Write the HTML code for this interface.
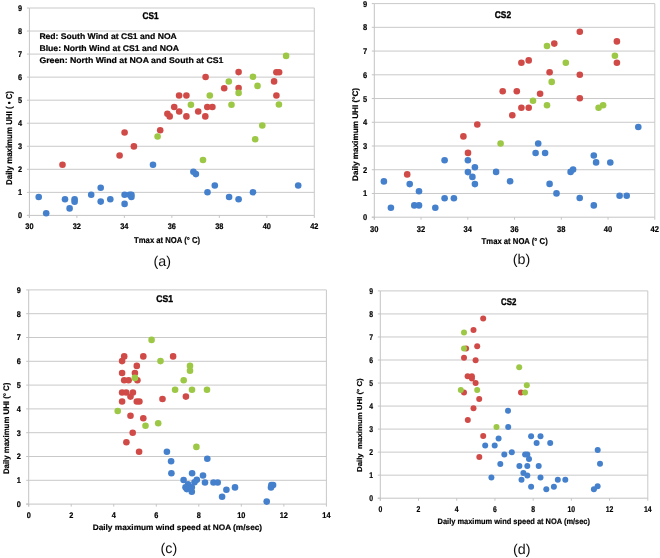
<!DOCTYPE html>
<html><head><meta charset="utf-8"><title>UHI scatter plots</title>
<style>
html,body{margin:0;padding:0;background:#fff;}
body{width:660px;height:558px;overflow:hidden;}
svg{display:block;font-family:"Liberation Sans", sans-serif;text-rendering:geometricPrecision;} text[font-weight=bold]{stroke:#000;stroke-width:0.2px;} text.t{stroke-width:0.4px;} svg{will-change:transform;filter:blur(0.3px);}
</style></head>
<body>
<svg width="660" height="558" viewBox="0 0 660 558" shape-rendering="auto">
<line x1="29.4" y1="192.36" x2="314.3" y2="192.36" stroke="#c9c9c9" stroke-width="1"/>
<line x1="29.4" y1="169.31" x2="314.3" y2="169.31" stroke="#c9c9c9" stroke-width="1"/>
<line x1="29.4" y1="146.27" x2="314.3" y2="146.27" stroke="#c9c9c9" stroke-width="1"/>
<line x1="29.4" y1="123.22" x2="314.3" y2="123.22" stroke="#c9c9c9" stroke-width="1"/>
<line x1="29.4" y1="100.18" x2="314.3" y2="100.18" stroke="#c9c9c9" stroke-width="1"/>
<line x1="29.4" y1="77.13" x2="314.3" y2="77.13" stroke="#c9c9c9" stroke-width="1"/>
<line x1="29.4" y1="54.09" x2="314.3" y2="54.09" stroke="#c9c9c9" stroke-width="1"/>
<line x1="29.4" y1="31.04" x2="314.3" y2="31.04" stroke="#c9c9c9" stroke-width="1"/>
<line x1="29.4" y1="8" x2="314.3" y2="8" stroke="#c9c9c9" stroke-width="1"/>
<line x1="314.3" y1="8" x2="314.3" y2="215.4" stroke="#c9c9c9" stroke-width="1"/>
<line x1="29.4" y1="8" x2="29.4" y2="217.9" stroke="#c4c4c4" stroke-width="1"/>
<line x1="26.9" y1="215.4" x2="314.3" y2="215.4" stroke="#c4c4c4" stroke-width="1"/>
<line x1="26.9" y1="215.4" x2="29.4" y2="215.4" stroke="#c4c4c4" stroke-width="1"/>
<line x1="26.9" y1="192.36" x2="29.4" y2="192.36" stroke="#c4c4c4" stroke-width="1"/>
<line x1="26.9" y1="169.31" x2="29.4" y2="169.31" stroke="#c4c4c4" stroke-width="1"/>
<line x1="26.9" y1="146.27" x2="29.4" y2="146.27" stroke="#c4c4c4" stroke-width="1"/>
<line x1="26.9" y1="123.22" x2="29.4" y2="123.22" stroke="#c4c4c4" stroke-width="1"/>
<line x1="26.9" y1="100.18" x2="29.4" y2="100.18" stroke="#c4c4c4" stroke-width="1"/>
<line x1="26.9" y1="77.13" x2="29.4" y2="77.13" stroke="#c4c4c4" stroke-width="1"/>
<line x1="26.9" y1="54.09" x2="29.4" y2="54.09" stroke="#c4c4c4" stroke-width="1"/>
<line x1="26.9" y1="31.04" x2="29.4" y2="31.04" stroke="#c4c4c4" stroke-width="1"/>
<line x1="26.9" y1="8" x2="29.4" y2="8" stroke="#c4c4c4" stroke-width="1"/>
<line x1="29.4" y1="215.4" x2="29.4" y2="217.9" stroke="#c4c4c4" stroke-width="1"/>
<text x="25.3" y="229.1" font-size="8.2" font-weight="bold" textLength="8.21" lengthAdjust="spacingAndGlyphs">30</text>
<line x1="76.88" y1="215.4" x2="76.88" y2="217.9" stroke="#c4c4c4" stroke-width="1"/>
<text x="72.78" y="229.1" font-size="8.2" font-weight="bold" textLength="8.21" lengthAdjust="spacingAndGlyphs">32</text>
<line x1="124.37" y1="215.4" x2="124.37" y2="217.9" stroke="#c4c4c4" stroke-width="1"/>
<text x="120.26" y="229.1" font-size="8.2" font-weight="bold" textLength="8.21" lengthAdjust="spacingAndGlyphs">34</text>
<line x1="171.85" y1="215.4" x2="171.85" y2="217.9" stroke="#c4c4c4" stroke-width="1"/>
<text x="167.75" y="229.1" font-size="8.2" font-weight="bold" textLength="8.21" lengthAdjust="spacingAndGlyphs">36</text>
<line x1="219.33" y1="215.4" x2="219.33" y2="217.9" stroke="#c4c4c4" stroke-width="1"/>
<text x="215.23" y="229.1" font-size="8.2" font-weight="bold" textLength="8.21" lengthAdjust="spacingAndGlyphs">38</text>
<line x1="266.82" y1="215.4" x2="266.82" y2="217.9" stroke="#c4c4c4" stroke-width="1"/>
<text x="262.71" y="229.1" font-size="8.2" font-weight="bold" textLength="8.21" lengthAdjust="spacingAndGlyphs">40</text>
<line x1="314.3" y1="215.4" x2="314.3" y2="217.9" stroke="#c4c4c4" stroke-width="1"/>
<text x="310.2" y="229.1" font-size="8.2" font-weight="bold" textLength="8.21" lengthAdjust="spacingAndGlyphs">42</text>
<text x="17.95" y="218.35" font-size="8.2" font-weight="bold" textLength="4.1" lengthAdjust="spacingAndGlyphs">0</text>
<text x="17.95" y="195.31" font-size="8.2" font-weight="bold" textLength="4.1" lengthAdjust="spacingAndGlyphs">1</text>
<text x="17.95" y="172.26" font-size="8.2" font-weight="bold" textLength="4.1" lengthAdjust="spacingAndGlyphs">2</text>
<text x="17.95" y="149.22" font-size="8.2" font-weight="bold" textLength="4.1" lengthAdjust="spacingAndGlyphs">3</text>
<text x="17.95" y="126.17" font-size="8.2" font-weight="bold" textLength="4.1" lengthAdjust="spacingAndGlyphs">4</text>
<text x="17.95" y="103.13" font-size="8.2" font-weight="bold" textLength="4.1" lengthAdjust="spacingAndGlyphs">5</text>
<text x="17.95" y="80.09" font-size="8.2" font-weight="bold" textLength="4.1" lengthAdjust="spacingAndGlyphs">6</text>
<text x="17.95" y="57.04" font-size="8.2" font-weight="bold" textLength="4.1" lengthAdjust="spacingAndGlyphs">7</text>
<text x="17.95" y="34" font-size="8.2" font-weight="bold" textLength="4.1" lengthAdjust="spacingAndGlyphs">8</text>
<text x="17.95" y="10.95" font-size="8.2" font-weight="bold" textLength="4.1" lengthAdjust="spacingAndGlyphs">9</text>
<circle cx="38.7" cy="197" r="3.3" fill="#4580CC"/>
<circle cx="46.2" cy="213.2" r="3.3" fill="#4580CC"/>
<circle cx="65" cy="199.3" r="3.3" fill="#4580CC"/>
<circle cx="69.6" cy="208.4" r="3.3" fill="#4580CC"/>
<circle cx="74.6" cy="199.3" r="3.3" fill="#4580CC"/>
<circle cx="74.6" cy="201.8" r="3.3" fill="#4580CC"/>
<circle cx="91.2" cy="194.8" r="3.3" fill="#4580CC"/>
<circle cx="100.7" cy="187.7" r="3.3" fill="#4580CC"/>
<circle cx="100.7" cy="201.6" r="3.3" fill="#4580CC"/>
<circle cx="110.3" cy="199.3" r="3.3" fill="#4580CC"/>
<circle cx="124.6" cy="194.8" r="3.3" fill="#4580CC"/>
<circle cx="124.6" cy="203.9" r="3.3" fill="#4580CC"/>
<circle cx="129.6" cy="194.8" r="3.3" fill="#4580CC"/>
<circle cx="131.4" cy="194.8" r="3.3" fill="#4580CC"/>
<circle cx="131.4" cy="197" r="3.3" fill="#4580CC"/>
<circle cx="153" cy="164.8" r="3.3" fill="#4580CC"/>
<circle cx="193.4" cy="171.8" r="3.3" fill="#4580CC"/>
<circle cx="195.9" cy="174.1" r="3.3" fill="#4580CC"/>
<circle cx="207.5" cy="192.3" r="3.3" fill="#4580CC"/>
<circle cx="214.8" cy="185.5" r="3.3" fill="#4580CC"/>
<circle cx="229.1" cy="197" r="3.3" fill="#4580CC"/>
<circle cx="238.6" cy="199.3" r="3.3" fill="#4580CC"/>
<circle cx="253" cy="192.3" r="3.3" fill="#4580CC"/>
<circle cx="298.2" cy="185.5" r="3.3" fill="#4580CC"/>
<circle cx="62.5" cy="164.8" r="3.3" fill="#D04B47"/>
<circle cx="119.6" cy="155.5" r="3.3" fill="#D04B47"/>
<circle cx="124.6" cy="132.5" r="3.3" fill="#D04B47"/>
<circle cx="133.9" cy="146.4" r="3.3" fill="#D04B47"/>
<circle cx="160.2" cy="130.2" r="3.3" fill="#D04B47"/>
<circle cx="167.4" cy="113.8" r="3.3" fill="#D04B47"/>
<circle cx="169.7" cy="116.4" r="3.3" fill="#D04B47"/>
<circle cx="174.2" cy="107" r="3.3" fill="#D04B47"/>
<circle cx="179.1" cy="95.5" r="3.3" fill="#D04B47"/>
<circle cx="179.2" cy="111.5" r="3.3" fill="#D04B47"/>
<circle cx="186.4" cy="95.5" r="3.3" fill="#D04B47"/>
<circle cx="186.4" cy="116.4" r="3.3" fill="#D04B47"/>
<circle cx="198.2" cy="111.5" r="3.3" fill="#D04B47"/>
<circle cx="205.6" cy="77" r="3.3" fill="#D04B47"/>
<circle cx="205.3" cy="116.4" r="3.3" fill="#D04B47"/>
<circle cx="207.3" cy="107" r="3.3" fill="#D04B47"/>
<circle cx="212.4" cy="107" r="3.3" fill="#D04B47"/>
<circle cx="224.2" cy="88.3" r="3.3" fill="#D04B47"/>
<circle cx="238.6" cy="72.1" r="3.3" fill="#D04B47"/>
<circle cx="238.6" cy="88" r="3.3" fill="#D04B47"/>
<circle cx="274.1" cy="81.4" r="3.3" fill="#D04B47"/>
<circle cx="276.4" cy="72.3" r="3.3" fill="#D04B47"/>
<circle cx="279.1" cy="72.3" r="3.3" fill="#D04B47"/>
<circle cx="276.4" cy="95.5" r="3.3" fill="#D04B47"/>
<circle cx="157.6" cy="136.5" r="3.3" fill="#9CC845"/>
<circle cx="190.9" cy="104.7" r="3.3" fill="#9CC845"/>
<circle cx="203" cy="160" r="3.3" fill="#9CC845"/>
<circle cx="209.8" cy="95.5" r="3.3" fill="#9CC845"/>
<circle cx="228.8" cy="81.5" r="3.3" fill="#9CC845"/>
<circle cx="231.5" cy="104.7" r="3.3" fill="#9CC845"/>
<circle cx="238.6" cy="92.9" r="3.3" fill="#9CC845"/>
<circle cx="253" cy="76.8" r="3.3" fill="#9CC845"/>
<circle cx="255.2" cy="139.3" r="3.3" fill="#9CC845"/>
<circle cx="257.5" cy="85.9" r="3.3" fill="#9CC845"/>
<circle cx="262.3" cy="125.5" r="3.3" fill="#9CC845"/>
<circle cx="278.9" cy="104.5" r="3.3" fill="#9CC845"/>
<circle cx="286.1" cy="55.9" r="3.3" fill="#9CC845"/>
<text x="142.6" y="18.9" font-size="9.8" font-weight="bold" textLength="15.9" lengthAdjust="spacingAndGlyphs" class="t">CS1</text>
<text x="39.4" y="39.1" font-size="8.2" font-weight="bold" textLength="137.4" lengthAdjust="spacingAndGlyphs">Red: South Wind at CS1 and NOA</text>
<text x="39.4" y="51.1" font-size="8.2" font-weight="bold" textLength="139.7" lengthAdjust="spacingAndGlyphs">Blue: North Wind at CS1 and NOA</text>
<text x="39.4" y="63.2" font-size="8.2" font-weight="bold" textLength="184" lengthAdjust="spacingAndGlyphs">Green: North Wind at NOA and South at CS1</text>
<text x="134.1" y="243.2" font-size="8.5" font-weight="bold" textLength="65.9" lengthAdjust="spacingAndGlyphs">Tmax at NOA (° C)</text>
<text transform="translate(12.1,184.9) rotate(-90)" x="0" y="0" font-size="8.5" font-weight="bold" textLength="93.9" lengthAdjust="spacingAndGlyphs">Daily maximum UHI ( • C)</text>
<text x="153.6" y="265.6" font-size="14.3" fill="#111">(a)</text>
<line x1="374.3" y1="193.47" x2="654.8" y2="193.47" stroke="#c9c9c9" stroke-width="1"/>
<line x1="374.3" y1="169.73" x2="654.8" y2="169.73" stroke="#c9c9c9" stroke-width="1"/>
<line x1="374.3" y1="146" x2="654.8" y2="146" stroke="#c9c9c9" stroke-width="1"/>
<line x1="374.3" y1="122.27" x2="654.8" y2="122.27" stroke="#c9c9c9" stroke-width="1"/>
<line x1="374.3" y1="98.53" x2="654.8" y2="98.53" stroke="#c9c9c9" stroke-width="1"/>
<line x1="374.3" y1="74.8" x2="654.8" y2="74.8" stroke="#c9c9c9" stroke-width="1"/>
<line x1="374.3" y1="51.07" x2="654.8" y2="51.07" stroke="#c9c9c9" stroke-width="1"/>
<line x1="374.3" y1="27.33" x2="654.8" y2="27.33" stroke="#c9c9c9" stroke-width="1"/>
<line x1="374.3" y1="3.6" x2="654.8" y2="3.6" stroke="#c9c9c9" stroke-width="1"/>
<line x1="654.8" y1="3.6" x2="654.8" y2="217.2" stroke="#c9c9c9" stroke-width="1"/>
<line x1="374.3" y1="3.6" x2="374.3" y2="219.7" stroke="#c4c4c4" stroke-width="1"/>
<line x1="371.8" y1="217.2" x2="654.8" y2="217.2" stroke="#c4c4c4" stroke-width="1"/>
<line x1="371.8" y1="217.2" x2="374.3" y2="217.2" stroke="#c4c4c4" stroke-width="1"/>
<line x1="371.8" y1="193.47" x2="374.3" y2="193.47" stroke="#c4c4c4" stroke-width="1"/>
<line x1="371.8" y1="169.73" x2="374.3" y2="169.73" stroke="#c4c4c4" stroke-width="1"/>
<line x1="371.8" y1="146" x2="374.3" y2="146" stroke="#c4c4c4" stroke-width="1"/>
<line x1="371.8" y1="122.27" x2="374.3" y2="122.27" stroke="#c4c4c4" stroke-width="1"/>
<line x1="371.8" y1="98.53" x2="374.3" y2="98.53" stroke="#c4c4c4" stroke-width="1"/>
<line x1="371.8" y1="74.8" x2="374.3" y2="74.8" stroke="#c4c4c4" stroke-width="1"/>
<line x1="371.8" y1="51.07" x2="374.3" y2="51.07" stroke="#c4c4c4" stroke-width="1"/>
<line x1="371.8" y1="27.33" x2="374.3" y2="27.33" stroke="#c4c4c4" stroke-width="1"/>
<line x1="371.8" y1="3.6" x2="374.3" y2="3.6" stroke="#c4c4c4" stroke-width="1"/>
<line x1="374.3" y1="217.2" x2="374.3" y2="219.7" stroke="#c4c4c4" stroke-width="1"/>
<text x="370.1" y="231.6" font-size="8.4" font-weight="bold" textLength="8.41" lengthAdjust="spacingAndGlyphs">30</text>
<line x1="421.05" y1="217.2" x2="421.05" y2="219.7" stroke="#c4c4c4" stroke-width="1"/>
<text x="416.85" y="231.6" font-size="8.4" font-weight="bold" textLength="8.41" lengthAdjust="spacingAndGlyphs">32</text>
<line x1="467.8" y1="217.2" x2="467.8" y2="219.7" stroke="#c4c4c4" stroke-width="1"/>
<text x="463.6" y="231.6" font-size="8.4" font-weight="bold" textLength="8.41" lengthAdjust="spacingAndGlyphs">34</text>
<line x1="514.55" y1="217.2" x2="514.55" y2="219.7" stroke="#c4c4c4" stroke-width="1"/>
<text x="510.35" y="231.6" font-size="8.4" font-weight="bold" textLength="8.41" lengthAdjust="spacingAndGlyphs">36</text>
<line x1="561.3" y1="217.2" x2="561.3" y2="219.7" stroke="#c4c4c4" stroke-width="1"/>
<text x="557.1" y="231.6" font-size="8.4" font-weight="bold" textLength="8.41" lengthAdjust="spacingAndGlyphs">38</text>
<line x1="608.05" y1="217.2" x2="608.05" y2="219.7" stroke="#c4c4c4" stroke-width="1"/>
<text x="603.85" y="231.6" font-size="8.4" font-weight="bold" textLength="8.41" lengthAdjust="spacingAndGlyphs">40</text>
<line x1="654.8" y1="217.2" x2="654.8" y2="219.7" stroke="#c4c4c4" stroke-width="1"/>
<text x="650.6" y="231.6" font-size="8.4" font-weight="bold" textLength="8.41" lengthAdjust="spacingAndGlyphs">42</text>
<text x="363" y="220.22" font-size="8.4" font-weight="bold" textLength="4.2" lengthAdjust="spacingAndGlyphs">0</text>
<text x="363" y="196.49" font-size="8.4" font-weight="bold" textLength="4.2" lengthAdjust="spacingAndGlyphs">1</text>
<text x="363" y="172.76" font-size="8.4" font-weight="bold" textLength="4.2" lengthAdjust="spacingAndGlyphs">2</text>
<text x="363" y="149.02" font-size="8.4" font-weight="bold" textLength="4.2" lengthAdjust="spacingAndGlyphs">3</text>
<text x="363" y="125.29" font-size="8.4" font-weight="bold" textLength="4.2" lengthAdjust="spacingAndGlyphs">4</text>
<text x="363" y="101.56" font-size="8.4" font-weight="bold" textLength="4.2" lengthAdjust="spacingAndGlyphs">5</text>
<text x="363" y="77.82" font-size="8.4" font-weight="bold" textLength="4.2" lengthAdjust="spacingAndGlyphs">6</text>
<text x="363" y="54.09" font-size="8.4" font-weight="bold" textLength="4.2" lengthAdjust="spacingAndGlyphs">7</text>
<text x="363" y="30.36" font-size="8.4" font-weight="bold" textLength="4.2" lengthAdjust="spacingAndGlyphs">8</text>
<text x="363" y="6.62" font-size="8.4" font-weight="bold" textLength="4.2" lengthAdjust="spacingAndGlyphs">9</text>
<circle cx="383.9" cy="181.4" r="3.3" fill="#4580CC"/>
<circle cx="390.9" cy="207.7" r="3.3" fill="#4580CC"/>
<circle cx="409.7" cy="184.1" r="3.3" fill="#4580CC"/>
<circle cx="414.3" cy="205.4" r="3.3" fill="#4580CC"/>
<circle cx="419" cy="205.4" r="3.3" fill="#4580CC"/>
<circle cx="419" cy="191.2" r="3.3" fill="#4580CC"/>
<circle cx="435.3" cy="207.7" r="3.3" fill="#4580CC"/>
<circle cx="444.6" cy="160.3" r="3.3" fill="#4580CC"/>
<circle cx="444.6" cy="198.2" r="3.3" fill="#4580CC"/>
<circle cx="453.9" cy="198.2" r="3.3" fill="#4580CC"/>
<circle cx="467.9" cy="160.3" r="3.3" fill="#4580CC"/>
<circle cx="467.9" cy="172.1" r="3.3" fill="#4580CC"/>
<circle cx="472.4" cy="176.9" r="3.3" fill="#4580CC"/>
<circle cx="474.9" cy="167.3" r="3.3" fill="#4580CC"/>
<circle cx="474.9" cy="184.1" r="3.3" fill="#4580CC"/>
<circle cx="496.1" cy="171.9" r="3.3" fill="#4580CC"/>
<circle cx="510.1" cy="181.3" r="3.3" fill="#4580CC"/>
<circle cx="535.6" cy="153" r="3.3" fill="#4580CC"/>
<circle cx="538.2" cy="143.5" r="3.3" fill="#4580CC"/>
<circle cx="545.1" cy="153" r="3.3" fill="#4580CC"/>
<circle cx="549.6" cy="183.9" r="3.3" fill="#4580CC"/>
<circle cx="556.5" cy="193.4" r="3.3" fill="#4580CC"/>
<circle cx="570.6" cy="171.9" r="3.3" fill="#4580CC"/>
<circle cx="573.1" cy="169.6" r="3.3" fill="#4580CC"/>
<circle cx="579.7" cy="198" r="3.3" fill="#4580CC"/>
<circle cx="593.8" cy="155.5" r="3.3" fill="#4580CC"/>
<circle cx="593.8" cy="205.4" r="3.3" fill="#4580CC"/>
<circle cx="596.1" cy="162.4" r="3.3" fill="#4580CC"/>
<circle cx="610.3" cy="162.5" r="3.3" fill="#4580CC"/>
<circle cx="619.6" cy="195.7" r="3.3" fill="#4580CC"/>
<circle cx="626.7" cy="195.7" r="3.3" fill="#4580CC"/>
<circle cx="638.3" cy="127" r="3.3" fill="#4580CC"/>
<circle cx="407.2" cy="174.4" r="3.3" fill="#D04B47"/>
<circle cx="463.4" cy="136.4" r="3.3" fill="#D04B47"/>
<circle cx="468" cy="152.9" r="3.3" fill="#D04B47"/>
<circle cx="477.3" cy="124.5" r="3.3" fill="#D04B47"/>
<circle cx="502.7" cy="91.3" r="3.3" fill="#D04B47"/>
<circle cx="512.3" cy="115.3" r="3.3" fill="#D04B47"/>
<circle cx="516.8" cy="91.3" r="3.3" fill="#D04B47"/>
<circle cx="521.4" cy="62.8" r="3.3" fill="#D04B47"/>
<circle cx="521.4" cy="107.7" r="3.3" fill="#D04B47"/>
<circle cx="528.7" cy="60.4" r="3.3" fill="#D04B47"/>
<circle cx="528.7" cy="107.7" r="3.3" fill="#D04B47"/>
<circle cx="540.1" cy="93.7" r="3.3" fill="#D04B47"/>
<circle cx="549.6" cy="72.2" r="3.3" fill="#D04B47"/>
<circle cx="554.3" cy="43.6" r="3.3" fill="#D04B47"/>
<circle cx="579.8" cy="31.8" r="3.3" fill="#D04B47"/>
<circle cx="579.8" cy="74.7" r="3.3" fill="#D04B47"/>
<circle cx="579.8" cy="98.3" r="3.3" fill="#D04B47"/>
<circle cx="616.9" cy="41.4" r="3.3" fill="#D04B47"/>
<circle cx="616.9" cy="62.7" r="3.3" fill="#D04B47"/>
<circle cx="547" cy="46" r="3.3" fill="#9CC845"/>
<circle cx="551.7" cy="81.9" r="3.3" fill="#9CC845"/>
<circle cx="533" cy="100.8" r="3.3" fill="#9CC845"/>
<circle cx="547" cy="105.3" r="3.3" fill="#9CC845"/>
<circle cx="565.8" cy="62.7" r="3.3" fill="#9CC845"/>
<circle cx="614.9" cy="55.7" r="3.3" fill="#9CC845"/>
<circle cx="598.6" cy="107.8" r="3.3" fill="#9CC845"/>
<circle cx="603.1" cy="105.3" r="3.3" fill="#9CC845"/>
<circle cx="500.6" cy="143.5" r="3.3" fill="#9CC845"/>
<text x="494.8" y="17.9" font-size="9.6" font-weight="bold" textLength="16.3" lengthAdjust="spacingAndGlyphs" class="t">CS2</text>
<text x="481.6" y="244.3" font-size="8.5" font-weight="bold" textLength="66.1" lengthAdjust="spacingAndGlyphs">Tmax at NOA (° C)</text>
<text transform="translate(357.9,181) rotate(-90)" x="0" y="0" font-size="8.1" font-weight="bold" textLength="93.1" lengthAdjust="spacingAndGlyphs">Daily maximum UHI (°C)</text>
<text x="512.8" y="263.8" font-size="14.3" fill="#111">(b)</text>
<line x1="28.7" y1="480.3" x2="326.4" y2="480.3" stroke="#c9c9c9" stroke-width="1"/>
<line x1="28.7" y1="456.5" x2="326.4" y2="456.5" stroke="#c9c9c9" stroke-width="1"/>
<line x1="28.7" y1="432.7" x2="326.4" y2="432.7" stroke="#c9c9c9" stroke-width="1"/>
<line x1="28.7" y1="408.9" x2="326.4" y2="408.9" stroke="#c9c9c9" stroke-width="1"/>
<line x1="28.7" y1="385.1" x2="326.4" y2="385.1" stroke="#c9c9c9" stroke-width="1"/>
<line x1="28.7" y1="361.3" x2="326.4" y2="361.3" stroke="#c9c9c9" stroke-width="1"/>
<line x1="28.7" y1="337.5" x2="326.4" y2="337.5" stroke="#c9c9c9" stroke-width="1"/>
<line x1="28.7" y1="313.7" x2="326.4" y2="313.7" stroke="#c9c9c9" stroke-width="1"/>
<line x1="28.7" y1="289.9" x2="326.4" y2="289.9" stroke="#c9c9c9" stroke-width="1"/>
<line x1="326.4" y1="289.9" x2="326.4" y2="504.1" stroke="#c9c9c9" stroke-width="1"/>
<line x1="28.7" y1="289.9" x2="28.7" y2="506.6" stroke="#c4c4c4" stroke-width="1"/>
<line x1="26.2" y1="504.1" x2="326.4" y2="504.1" stroke="#c4c4c4" stroke-width="1"/>
<line x1="26.2" y1="504.1" x2="28.7" y2="504.1" stroke="#c4c4c4" stroke-width="1"/>
<line x1="26.2" y1="480.3" x2="28.7" y2="480.3" stroke="#c4c4c4" stroke-width="1"/>
<line x1="26.2" y1="456.5" x2="28.7" y2="456.5" stroke="#c4c4c4" stroke-width="1"/>
<line x1="26.2" y1="432.7" x2="28.7" y2="432.7" stroke="#c4c4c4" stroke-width="1"/>
<line x1="26.2" y1="408.9" x2="28.7" y2="408.9" stroke="#c4c4c4" stroke-width="1"/>
<line x1="26.2" y1="385.1" x2="28.7" y2="385.1" stroke="#c4c4c4" stroke-width="1"/>
<line x1="26.2" y1="361.3" x2="28.7" y2="361.3" stroke="#c4c4c4" stroke-width="1"/>
<line x1="26.2" y1="337.5" x2="28.7" y2="337.5" stroke="#c4c4c4" stroke-width="1"/>
<line x1="26.2" y1="313.7" x2="28.7" y2="313.7" stroke="#c4c4c4" stroke-width="1"/>
<line x1="26.2" y1="289.9" x2="28.7" y2="289.9" stroke="#c4c4c4" stroke-width="1"/>
<line x1="28.7" y1="504.1" x2="28.7" y2="506.6" stroke="#c4c4c4" stroke-width="1"/>
<text x="26.65" y="517.8" font-size="8.2" font-weight="bold" textLength="4.1" lengthAdjust="spacingAndGlyphs">0</text>
<line x1="71.23" y1="504.1" x2="71.23" y2="506.6" stroke="#c4c4c4" stroke-width="1"/>
<text x="69.18" y="517.8" font-size="8.2" font-weight="bold" textLength="4.1" lengthAdjust="spacingAndGlyphs">2</text>
<line x1="113.76" y1="504.1" x2="113.76" y2="506.6" stroke="#c4c4c4" stroke-width="1"/>
<text x="111.7" y="517.8" font-size="8.2" font-weight="bold" textLength="4.1" lengthAdjust="spacingAndGlyphs">4</text>
<line x1="156.29" y1="504.1" x2="156.29" y2="506.6" stroke="#c4c4c4" stroke-width="1"/>
<text x="154.23" y="517.8" font-size="8.2" font-weight="bold" textLength="4.1" lengthAdjust="spacingAndGlyphs">6</text>
<line x1="198.81" y1="504.1" x2="198.81" y2="506.6" stroke="#c4c4c4" stroke-width="1"/>
<text x="196.76" y="517.8" font-size="8.2" font-weight="bold" textLength="4.1" lengthAdjust="spacingAndGlyphs">8</text>
<line x1="241.34" y1="504.1" x2="241.34" y2="506.6" stroke="#c4c4c4" stroke-width="1"/>
<text x="237.24" y="517.8" font-size="8.2" font-weight="bold" textLength="8.21" lengthAdjust="spacingAndGlyphs">10</text>
<line x1="283.87" y1="504.1" x2="283.87" y2="506.6" stroke="#c4c4c4" stroke-width="1"/>
<text x="279.77" y="517.8" font-size="8.2" font-weight="bold" textLength="8.21" lengthAdjust="spacingAndGlyphs">12</text>
<line x1="326.4" y1="504.1" x2="326.4" y2="506.6" stroke="#c4c4c4" stroke-width="1"/>
<text x="322.3" y="517.8" font-size="8.2" font-weight="bold" textLength="8.21" lengthAdjust="spacingAndGlyphs">14</text>
<text x="16.85" y="507.05" font-size="8.2" font-weight="bold" textLength="4.1" lengthAdjust="spacingAndGlyphs">0</text>
<text x="16.85" y="483.25" font-size="8.2" font-weight="bold" textLength="4.1" lengthAdjust="spacingAndGlyphs">1</text>
<text x="16.85" y="459.45" font-size="8.2" font-weight="bold" textLength="4.1" lengthAdjust="spacingAndGlyphs">2</text>
<text x="16.85" y="435.65" font-size="8.2" font-weight="bold" textLength="4.1" lengthAdjust="spacingAndGlyphs">3</text>
<text x="16.85" y="411.85" font-size="8.2" font-weight="bold" textLength="4.1" lengthAdjust="spacingAndGlyphs">4</text>
<text x="16.85" y="388.05" font-size="8.2" font-weight="bold" textLength="4.1" lengthAdjust="spacingAndGlyphs">5</text>
<text x="16.85" y="364.25" font-size="8.2" font-weight="bold" textLength="4.1" lengthAdjust="spacingAndGlyphs">6</text>
<text x="16.85" y="340.45" font-size="8.2" font-weight="bold" textLength="4.1" lengthAdjust="spacingAndGlyphs">7</text>
<text x="16.85" y="316.65" font-size="8.2" font-weight="bold" textLength="4.1" lengthAdjust="spacingAndGlyphs">8</text>
<text x="16.85" y="292.85" font-size="8.2" font-weight="bold" textLength="4.1" lengthAdjust="spacingAndGlyphs">9</text>
<circle cx="166.9" cy="451.8" r="3.3" fill="#4580CC"/>
<circle cx="171.1" cy="461.3" r="3.3" fill="#4580CC"/>
<circle cx="171.4" cy="473.2" r="3.3" fill="#4580CC"/>
<circle cx="207.3" cy="458.7" r="3.3" fill="#4580CC"/>
<circle cx="192.1" cy="473.2" r="3.3" fill="#4580CC"/>
<circle cx="203" cy="475.5" r="3.3" fill="#4580CC"/>
<circle cx="183.6" cy="480" r="3.3" fill="#4580CC"/>
<circle cx="196.8" cy="479.8" r="3.3" fill="#4580CC"/>
<circle cx="194.5" cy="482.3" r="3.3" fill="#4580CC"/>
<circle cx="205" cy="482.5" r="3.3" fill="#4580CC"/>
<circle cx="213.5" cy="482.5" r="3.3" fill="#4580CC"/>
<circle cx="217.7" cy="482.5" r="3.3" fill="#4580CC"/>
<circle cx="188" cy="484.4" r="3.3" fill="#4580CC"/>
<circle cx="185.5" cy="487.3" r="3.3" fill="#4580CC"/>
<circle cx="191.8" cy="487.3" r="3.3" fill="#4580CC"/>
<circle cx="186.8" cy="489.1" r="3.3" fill="#4580CC"/>
<circle cx="191.8" cy="491.8" r="3.3" fill="#4580CC"/>
<circle cx="226.4" cy="489.8" r="3.3" fill="#4580CC"/>
<circle cx="222.1" cy="496.8" r="3.3" fill="#4580CC"/>
<circle cx="235" cy="487.4" r="3.3" fill="#4580CC"/>
<circle cx="266.7" cy="501.6" r="3.3" fill="#4580CC"/>
<circle cx="271.4" cy="485.1" r="3.3" fill="#4580CC"/>
<circle cx="273.1" cy="485.1" r="3.3" fill="#4580CC"/>
<circle cx="271" cy="487.4" r="3.3" fill="#4580CC"/>
<circle cx="124.2" cy="356.4" r="3.3" fill="#D04B47"/>
<circle cx="122.1" cy="361.1" r="3.3" fill="#D04B47"/>
<circle cx="143.3" cy="356.4" r="3.3" fill="#D04B47"/>
<circle cx="173.1" cy="356.4" r="3.3" fill="#D04B47"/>
<circle cx="136.8" cy="365.9" r="3.3" fill="#D04B47"/>
<circle cx="122.1" cy="373" r="3.3" fill="#D04B47"/>
<circle cx="134.9" cy="373" r="3.3" fill="#D04B47"/>
<circle cx="124.2" cy="380.2" r="3.3" fill="#D04B47"/>
<circle cx="128.6" cy="380.2" r="3.3" fill="#D04B47"/>
<circle cx="137.4" cy="380.2" r="3.3" fill="#D04B47"/>
<circle cx="122.1" cy="392.5" r="3.3" fill="#D04B47"/>
<circle cx="126.2" cy="392.5" r="3.3" fill="#D04B47"/>
<circle cx="132.9" cy="392.5" r="3.3" fill="#D04B47"/>
<circle cx="130.5" cy="396.6" r="3.3" fill="#D04B47"/>
<circle cx="122.1" cy="401.5" r="3.3" fill="#D04B47"/>
<circle cx="136.8" cy="401.5" r="3.3" fill="#D04B47"/>
<circle cx="139.4" cy="401.5" r="3.3" fill="#D04B47"/>
<circle cx="162.5" cy="399" r="3.3" fill="#D04B47"/>
<circle cx="185.9" cy="396.6" r="3.3" fill="#D04B47"/>
<circle cx="130.5" cy="415.7" r="3.3" fill="#D04B47"/>
<circle cx="143.3" cy="418.3" r="3.3" fill="#D04B47"/>
<circle cx="132.7" cy="432.7" r="3.3" fill="#D04B47"/>
<circle cx="126.4" cy="442.2" r="3.3" fill="#D04B47"/>
<circle cx="139.1" cy="451.8" r="3.3" fill="#D04B47"/>
<circle cx="151.6" cy="339.9" r="3.3" fill="#9CC845"/>
<circle cx="160.5" cy="361.1" r="3.3" fill="#9CC845"/>
<circle cx="190" cy="365.9" r="3.3" fill="#9CC845"/>
<circle cx="190" cy="370.8" r="3.3" fill="#9CC845"/>
<circle cx="134.9" cy="377.9" r="3.3" fill="#9CC845"/>
<circle cx="183.7" cy="380.2" r="3.3" fill="#9CC845"/>
<circle cx="175.1" cy="389.7" r="3.3" fill="#9CC845"/>
<circle cx="192" cy="389.7" r="3.3" fill="#9CC845"/>
<circle cx="207" cy="389.7" r="3.3" fill="#9CC845"/>
<circle cx="117.7" cy="411" r="3.3" fill="#9CC845"/>
<circle cx="145.5" cy="425.7" r="3.3" fill="#9CC845"/>
<circle cx="158.2" cy="423.2" r="3.3" fill="#9CC845"/>
<circle cx="196.4" cy="446.9" r="3.3" fill="#9CC845"/>
<text x="156.3" y="302" font-size="9.8" font-weight="bold" textLength="16.6" lengthAdjust="spacingAndGlyphs" class="t">CS1</text>
<text x="92.7" y="529.7" font-size="8.0" font-weight="bold" textLength="169.4" lengthAdjust="spacingAndGlyphs">Daily maximum wind speed at NOA (m/sec)</text>
<text transform="translate(8.6,474.1) rotate(-90)" x="0" y="0" font-size="8.1" font-weight="bold" textLength="91.5" lengthAdjust="spacingAndGlyphs">Daily maximum UHI (° C)</text>
<text x="160.6" y="553.2" font-size="14.3" fill="#111">(c)</text>
<line x1="380.3" y1="475.17" x2="647.8" y2="475.17" stroke="#c9c9c9" stroke-width="1"/>
<line x1="380.3" y1="452.13" x2="647.8" y2="452.13" stroke="#c9c9c9" stroke-width="1"/>
<line x1="380.3" y1="429.1" x2="647.8" y2="429.1" stroke="#c9c9c9" stroke-width="1"/>
<line x1="380.3" y1="406.07" x2="647.8" y2="406.07" stroke="#c9c9c9" stroke-width="1"/>
<line x1="380.3" y1="383.03" x2="647.8" y2="383.03" stroke="#c9c9c9" stroke-width="1"/>
<line x1="380.3" y1="360" x2="647.8" y2="360" stroke="#c9c9c9" stroke-width="1"/>
<line x1="380.3" y1="336.97" x2="647.8" y2="336.97" stroke="#c9c9c9" stroke-width="1"/>
<line x1="380.3" y1="313.93" x2="647.8" y2="313.93" stroke="#c9c9c9" stroke-width="1"/>
<line x1="380.3" y1="290.9" x2="647.8" y2="290.9" stroke="#c9c9c9" stroke-width="1"/>
<line x1="647.8" y1="290.9" x2="647.8" y2="498.2" stroke="#c9c9c9" stroke-width="1"/>
<line x1="380.3" y1="290.9" x2="380.3" y2="500.7" stroke="#c4c4c4" stroke-width="1"/>
<line x1="377.8" y1="498.2" x2="647.8" y2="498.2" stroke="#c4c4c4" stroke-width="1"/>
<line x1="377.8" y1="498.2" x2="380.3" y2="498.2" stroke="#c4c4c4" stroke-width="1"/>
<line x1="377.8" y1="475.17" x2="380.3" y2="475.17" stroke="#c4c4c4" stroke-width="1"/>
<line x1="377.8" y1="452.13" x2="380.3" y2="452.13" stroke="#c4c4c4" stroke-width="1"/>
<line x1="377.8" y1="429.1" x2="380.3" y2="429.1" stroke="#c4c4c4" stroke-width="1"/>
<line x1="377.8" y1="406.07" x2="380.3" y2="406.07" stroke="#c4c4c4" stroke-width="1"/>
<line x1="377.8" y1="383.03" x2="380.3" y2="383.03" stroke="#c4c4c4" stroke-width="1"/>
<line x1="377.8" y1="360" x2="380.3" y2="360" stroke="#c4c4c4" stroke-width="1"/>
<line x1="377.8" y1="336.97" x2="380.3" y2="336.97" stroke="#c4c4c4" stroke-width="1"/>
<line x1="377.8" y1="313.93" x2="380.3" y2="313.93" stroke="#c4c4c4" stroke-width="1"/>
<line x1="377.8" y1="290.9" x2="380.3" y2="290.9" stroke="#c4c4c4" stroke-width="1"/>
<line x1="380.3" y1="498.2" x2="380.3" y2="500.7" stroke="#c4c4c4" stroke-width="1"/>
<text x="378.38" y="512.2" font-size="8.4" font-weight="bold" textLength="3.83" lengthAdjust="spacingAndGlyphs">0</text>
<line x1="418.51" y1="498.2" x2="418.51" y2="500.7" stroke="#c4c4c4" stroke-width="1"/>
<text x="416.6" y="512.2" font-size="8.4" font-weight="bold" textLength="3.83" lengthAdjust="spacingAndGlyphs">2</text>
<line x1="456.73" y1="498.2" x2="456.73" y2="500.7" stroke="#c4c4c4" stroke-width="1"/>
<text x="454.81" y="512.2" font-size="8.4" font-weight="bold" textLength="3.83" lengthAdjust="spacingAndGlyphs">4</text>
<line x1="494.94" y1="498.2" x2="494.94" y2="500.7" stroke="#c4c4c4" stroke-width="1"/>
<text x="493.03" y="512.2" font-size="8.4" font-weight="bold" textLength="3.83" lengthAdjust="spacingAndGlyphs">6</text>
<line x1="533.16" y1="498.2" x2="533.16" y2="500.7" stroke="#c4c4c4" stroke-width="1"/>
<text x="531.24" y="512.2" font-size="8.4" font-weight="bold" textLength="3.83" lengthAdjust="spacingAndGlyphs">8</text>
<line x1="571.37" y1="498.2" x2="571.37" y2="500.7" stroke="#c4c4c4" stroke-width="1"/>
<text x="567.54" y="512.2" font-size="8.4" font-weight="bold" textLength="7.66" lengthAdjust="spacingAndGlyphs">10</text>
<line x1="609.59" y1="498.2" x2="609.59" y2="500.7" stroke="#c4c4c4" stroke-width="1"/>
<text x="605.75" y="512.2" font-size="8.4" font-weight="bold" textLength="7.66" lengthAdjust="spacingAndGlyphs">12</text>
<line x1="647.8" y1="498.2" x2="647.8" y2="500.7" stroke="#c4c4c4" stroke-width="1"/>
<text x="643.97" y="512.2" font-size="8.4" font-weight="bold" textLength="7.66" lengthAdjust="spacingAndGlyphs">14</text>
<text x="369.28" y="501.22" font-size="8.4" font-weight="bold" textLength="3.83" lengthAdjust="spacingAndGlyphs">0</text>
<text x="369.28" y="478.19" font-size="8.4" font-weight="bold" textLength="3.83" lengthAdjust="spacingAndGlyphs">1</text>
<text x="369.28" y="455.16" font-size="8.4" font-weight="bold" textLength="3.83" lengthAdjust="spacingAndGlyphs">2</text>
<text x="369.28" y="432.12" font-size="8.4" font-weight="bold" textLength="3.83" lengthAdjust="spacingAndGlyphs">3</text>
<text x="369.28" y="409.09" font-size="8.4" font-weight="bold" textLength="3.83" lengthAdjust="spacingAndGlyphs">4</text>
<text x="369.28" y="386.06" font-size="8.4" font-weight="bold" textLength="3.83" lengthAdjust="spacingAndGlyphs">5</text>
<text x="369.28" y="363.02" font-size="8.4" font-weight="bold" textLength="3.83" lengthAdjust="spacingAndGlyphs">6</text>
<text x="369.28" y="339.99" font-size="8.4" font-weight="bold" textLength="3.83" lengthAdjust="spacingAndGlyphs">7</text>
<text x="369.28" y="316.96" font-size="8.4" font-weight="bold" textLength="3.83" lengthAdjust="spacingAndGlyphs">8</text>
<text x="369.28" y="293.92" font-size="8.4" font-weight="bold" textLength="3.83" lengthAdjust="spacingAndGlyphs">9</text>
<circle cx="508.2" cy="426.9" r="3" fill="#4580CC"/>
<circle cx="498.6" cy="438.4" r="3" fill="#4580CC"/>
<circle cx="494.7" cy="445.4" r="3" fill="#4580CC"/>
<circle cx="485.2" cy="445.4" r="3" fill="#4580CC"/>
<circle cx="531.1" cy="436.2" r="3" fill="#4580CC"/>
<circle cx="540.5" cy="436.2" r="3" fill="#4580CC"/>
<circle cx="536.6" cy="442.9" r="3" fill="#4580CC"/>
<circle cx="550.2" cy="442.9" r="3" fill="#4580CC"/>
<circle cx="504.3" cy="454.4" r="3" fill="#4580CC"/>
<circle cx="511.8" cy="452.3" r="3" fill="#4580CC"/>
<circle cx="525.1" cy="454.4" r="3" fill="#4580CC"/>
<circle cx="527.3" cy="454.4" r="3" fill="#4580CC"/>
<circle cx="529" cy="459" r="3" fill="#4580CC"/>
<circle cx="500.3" cy="463.9" r="3" fill="#4580CC"/>
<circle cx="519.4" cy="466" r="3" fill="#4580CC"/>
<circle cx="527.3" cy="466" r="3" fill="#4580CC"/>
<circle cx="538.7" cy="466" r="3" fill="#4580CC"/>
<circle cx="523.4" cy="473" r="3" fill="#4580CC"/>
<circle cx="527.3" cy="475.5" r="3" fill="#4580CC"/>
<circle cx="491.4" cy="477.6" r="3" fill="#4580CC"/>
<circle cx="521.5" cy="479.8" r="3" fill="#4580CC"/>
<circle cx="540.5" cy="477.6" r="3" fill="#4580CC"/>
<circle cx="557.8" cy="479.8" r="3" fill="#4580CC"/>
<circle cx="565.3" cy="479.8" r="3" fill="#4580CC"/>
<circle cx="531.1" cy="486.7" r="3" fill="#4580CC"/>
<circle cx="546.3" cy="489.2" r="3" fill="#4580CC"/>
<circle cx="553.9" cy="486.7" r="3" fill="#4580CC"/>
<circle cx="597.7" cy="449.9" r="3" fill="#4580CC"/>
<circle cx="600" cy="463.8" r="3" fill="#4580CC"/>
<circle cx="597.6" cy="486.3" r="3" fill="#4580CC"/>
<circle cx="593.9" cy="489.3" r="3" fill="#4580CC"/>
<circle cx="508" cy="410.8" r="3" fill="#4580CC"/>
<circle cx="483.2" cy="318.4" r="3" fill="#D04B47"/>
<circle cx="473.5" cy="330.1" r="3" fill="#D04B47"/>
<circle cx="466.1" cy="348.4" r="3" fill="#D04B47"/>
<circle cx="477.2" cy="346.2" r="3" fill="#D04B47"/>
<circle cx="464" cy="357.7" r="3" fill="#D04B47"/>
<circle cx="475.6" cy="360.2" r="3" fill="#D04B47"/>
<circle cx="467.6" cy="376.3" r="3" fill="#D04B47"/>
<circle cx="471.9" cy="376.3" r="3" fill="#D04B47"/>
<circle cx="471.9" cy="378.5" r="3" fill="#D04B47"/>
<circle cx="475.6" cy="382.9" r="3" fill="#D04B47"/>
<circle cx="464" cy="392.4" r="3" fill="#D04B47"/>
<circle cx="479.2" cy="399.1" r="3" fill="#D04B47"/>
<circle cx="473.5" cy="408.3" r="3" fill="#D04B47"/>
<circle cx="467.8" cy="420" r="3" fill="#D04B47"/>
<circle cx="483.2" cy="436.1" r="3" fill="#D04B47"/>
<circle cx="479.3" cy="457.1" r="3" fill="#D04B47"/>
<circle cx="521" cy="392.5" r="3" fill="#D04B47"/>
<circle cx="464" cy="332.4" r="3" fill="#9CC845"/>
<circle cx="464" cy="348.4" r="3" fill="#9CC845"/>
<circle cx="460.8" cy="389.9" r="3" fill="#9CC845"/>
<circle cx="477.2" cy="389.9" r="3" fill="#9CC845"/>
<circle cx="519.2" cy="367.2" r="3" fill="#9CC845"/>
<circle cx="526.8" cy="385.3" r="3" fill="#9CC845"/>
<circle cx="525" cy="392.5" r="3" fill="#9CC845"/>
<circle cx="496.5" cy="426.9" r="3" fill="#9CC845"/>
<text x="501.1" y="305.3" font-size="9.8" font-weight="bold" textLength="15.2" lengthAdjust="spacingAndGlyphs" class="t">CS2</text>
<text x="437.6" y="523.6" font-size="8.0" font-weight="bold" textLength="152.4" lengthAdjust="spacingAndGlyphs">Daily maximum wind speed at NOA (m/sec)</text>
<text transform="translate(362.09,472) rotate(-90)" x="0" y="0" font-size="7.2" font-weight="bold" textLength="93.7" lengthAdjust="spacingAndGlyphs">Daily  maximum UHI (° C)</text>
<text x="513.1" y="553.8" font-size="14.3" fill="#111">(d)</text>
</svg>
</body></html>
